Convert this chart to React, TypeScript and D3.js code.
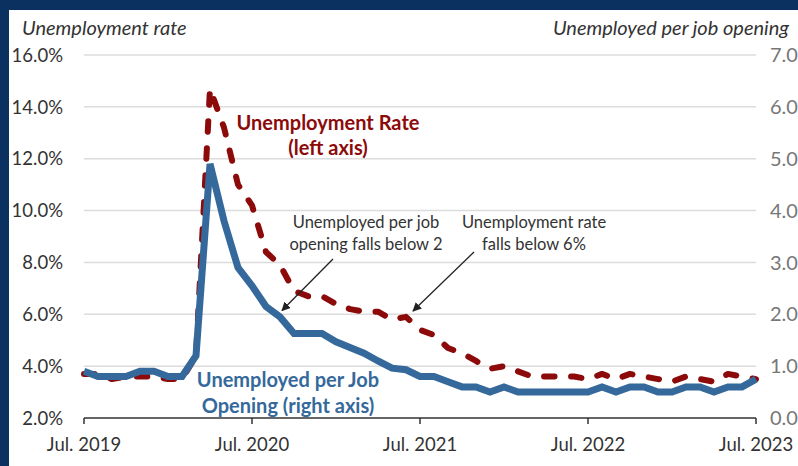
import React from "react";
import * as d3 from "d3";

// Monthly, Jul 2019 – Jul 2023
const tickLabelsX = ["Jul. 2019", "Jul. 2020", "Jul. 2021", "Jul. 2022", "Jul. 2023"];
const tickIdxX = [0, 12, 24, 36, 48];
const leftTicks = [2, 4, 6, 8, 10, 12, 14, 16];
const rightTicks = [0, 1, 2, 3, 4, 5, 6, 7];

const unemploymentRate = [
  3.7, 3.7, 3.5, 3.6, 3.6, 3.6, 3.5, 3.5, 4.4, 14.7, 13.2, 11.0, 10.2, 8.4, 7.9, 6.9,
  6.7, 6.7, 6.4, 6.2, 6.1, 6.1, 5.8, 5.9, 5.4, 5.2, 4.7, 4.5, 4.2, 3.9, 4.0, 3.8,
  3.6, 3.6, 3.6, 3.6, 3.5, 3.7, 3.5, 3.7, 3.6, 3.5, 3.4, 3.6, 3.5, 3.4, 3.7, 3.6, 3.5,
];
const unemployedPerOpening = [
  0.9, 0.8, 0.8, 0.8, 0.9, 0.9, 0.8, 0.8, 1.2, 4.9, 3.8, 2.9, 2.55, 2.15, 1.95, 1.63,
  1.63, 1.63, 1.47, 1.36, 1.25, 1.1, 0.96, 0.93, 0.8, 0.8, 0.7, 0.6, 0.6, 0.5, 0.6, 0.5,
  0.5, 0.5, 0.5, 0.5, 0.5, 0.6, 0.5, 0.6, 0.6, 0.5, 0.5, 0.6, 0.6, 0.5, 0.6, 0.6, 0.75,
];

const NAVY = "#0b3160";
const RED = "#8c0a0a";
const BLUE = "#35699b";
const FONT = "Lato, 'Source Sans Pro', sans-serif";

export default function App() {
  const W = 798, H = 466;
  const x = d3.scaleLinear().domain([0, 48]).range([84, 756]);
  const yL = d3.scaleLinear().domain([2, 16]).range([418, 55]);
  const yR = d3.scaleLinear().domain([0, 7]).range([418, 55]);

  const redLine = d3.line<number>().x((_, i) => x(i)).y((d) => yL(d))(unemploymentRate) || "";
  const blueLine = d3.line<number>().x((_, i) => x(i)).y((d) => yR(d))(unemployedPerOpening) || "";

  return (
    <div style={{ position: "absolute", left: 0, top: 0 }}>
      <svg width={W} height={H} style={{ display: "block", fontFamily: FONT }}>
        <defs>
          <marker id="arr" viewBox="0 0 10 10" refX="9" refY="5" markerWidth="9" markerHeight="9" markerUnits="userSpaceOnUse" orient="auto">
            <path d="M0,0 L10,5 L0,10 z" fill="#222" />
          </marker>
        </defs>
        <rect x={0} y={0} width={W} height={H} fill={NAVY} />
        <rect x={9} y={10} width={W - 9} height={H - 10} fill="#fff" />

        {/* gridlines */}
        {leftTicks.filter((t) => t > 2).map((t) => (
          <line key={t} x1={x(0)} x2={x(48)} y1={yL(t)} y2={yL(t)} stroke="#dcdcdc" strokeWidth={1.5} />
        ))}

        {/* left tick labels */}
        {leftTicks.map((t) => (
          <text key={t} x={63} y={yL(t)} dy="0.36em" textAnchor="end" fontSize={18.5} fill="#333">
            {t.toFixed(1) + "%"}
          </text>
        ))}
        {/* right tick labels */}
        {rightTicks.map((t) => (
          <text key={t} x={770} y={yR(t)} dy="0.36em" textAnchor="start" fontSize={20} fill="#777">
            {t.toFixed(1)}
          </text>
        ))}

        {/* axis titles */}
        <text x={22} y={35} fontSize={20} fontStyle="italic" fill="#333">Unemployment rate</text>
        <text x={789} y={35} fontSize={20} fontStyle="italic" fill="#333" textAnchor="end">Unemployed per job opening</text>

        {/* x axis */}
        <line x1={x(0)} x2={x(48)} y1={418} y2={418} stroke="#333" strokeWidth={1.5} />
        {tickIdxX.map((t, i) => (
          <g key={t}>
            <line x1={x(t)} x2={x(t)} y1={418} y2={424} stroke="#333" strokeWidth={1.5} />
            <text x={x(t)} y={451} textAnchor="middle" fontSize={18.5} fill="#333">{tickLabelsX[i]}</text>
          </g>
        ))}

        {/* series */}
        <path d={redLine} fill="none" stroke={RED} strokeWidth={6} strokeDasharray="10.5 16.5" strokeLinecap="round" strokeLinejoin="round" />
        <path d={blueLine} fill="none" stroke={BLUE} strokeWidth={7} strokeLinejoin="miter" />

        {/* series labels */}
        <text x={328} y={130} textAnchor="middle" fontSize={20} fontWeight="bold" fill={RED}>Unemployment Rate</text>
        <text x={328} y={155} textAnchor="middle" fontSize={20} fontWeight="bold" fill={RED}>(left axis)</text>
        <text x={288} y={387} textAnchor="middle" fontSize={20} fontWeight="bold" fill={BLUE}>Unemployed per Job</text>
        <text x={288} y={413} textAnchor="middle" fontSize={20} fontWeight="bold" fill={BLUE}>Opening (right axis)</text>

        {/* annotations */}
        <text x={366} y={228} textAnchor="middle" fontSize={16.5} fill="#333">Unemployed per job</text>
        <text x={366} y={250} textAnchor="middle" fontSize={16.5} fill="#333">opening falls below 2</text>
        <text x={534} y={228} textAnchor="middle" fontSize={16.5} fill="#333">Unemployment rate</text>
        <text x={534} y={250} textAnchor="middle" fontSize={16.5} fill="#333">falls below 6%</text>
        <line x1={333} y1={259} x2={282} y2={310.5} stroke="#222" strokeWidth={1.3} markerEnd="url(#arr)" />
        <line x1={474} y1={252} x2={413} y2={311} stroke="#222" strokeWidth={1.3} markerEnd="url(#arr)" />
      </svg>
    </div>
  );
}
